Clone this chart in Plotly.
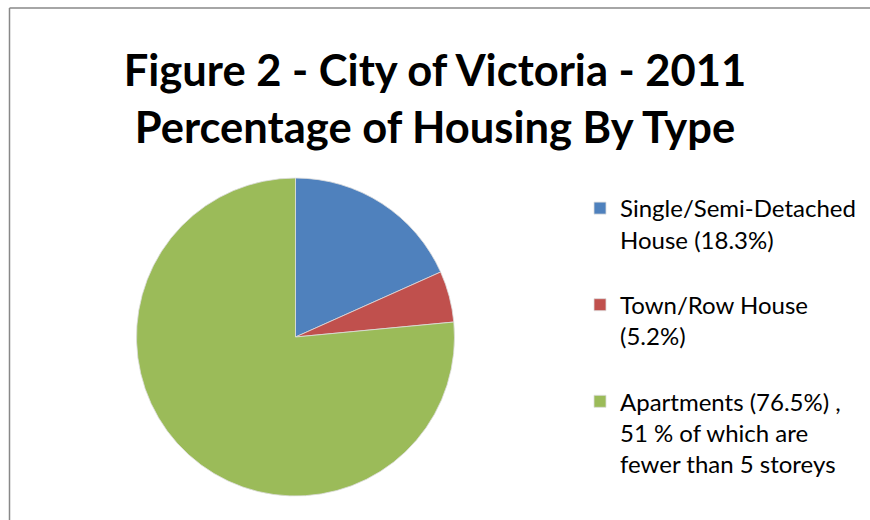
import plotly.graph_objects as go

categories = ["Single/Semi-Detached<br>House (18.3%)<br> ", "Town/Row House<br>(5.2%)<br> ",
              "Apartments (76.5%) ,<br>51 % of which are<br>fewer than 5 storeys"]
values = [18.3, 5.2, 76.5]
colors = ["#4F81BD", "#C0504D", "#9BBB59"]

W, H = 870, 520
FONT = "Lato, Open Sans, sans-serif"

fig = go.Figure(go.Pie(
    labels=categories, values=values, sort=False, direction="clockwise", rotation=0,
    marker=dict(colors=colors, line=dict(color="#dddddd", width=0.8)),
    textinfo="none", hoverinfo="label+percent",
    domain=dict(x=[136.5 / W, 454.5 / W], y=[1 - 496 / H, 1 - 178 / H]),
))

fig.update_layout(
    width=W, height=H, margin=dict(l=0, r=0, t=0, b=0),
    paper_bgcolor="white", plot_bgcolor="white",
    font=dict(family=FONT, color="black"),
    title=dict(text="<b>Figure 2 - City of Victoria - 2011<br>Percentage of Housing By Type</b>",
               x=0.5, xanchor="center", y=1 - 86 / H, yanchor="middle",
               font=dict(size=43.5, family=FONT, color="black")),
    legend=dict(x=580 / W, xanchor="left", y=1 - 186 / H, yanchor="top",
                font=dict(size=24, family=FONT, color="black"),
                valign="top", itemwidth=30, tracegroupgap=0,
                bgcolor="rgba(0,0,0,0)"),
    shapes=[
        dict(type="line", xref="paper", yref="paper", x0=9.5 / W, x1=1, y0=1 - 8 / H, y1=1 - 8 / H,
             line=dict(color="#888888", width=1.5)),
        dict(type="line", xref="paper", yref="paper", x0=9.5 / W, x1=9.5 / W, y0=0, y1=1 - 8 / H,
             line=dict(color="#888888", width=1.5)),
    ],
)

fig.write_html("out.html", config={"displayModeBar": False},
               post_script="document.body.style.margin='0';document.body.style.overflow='hidden';")
